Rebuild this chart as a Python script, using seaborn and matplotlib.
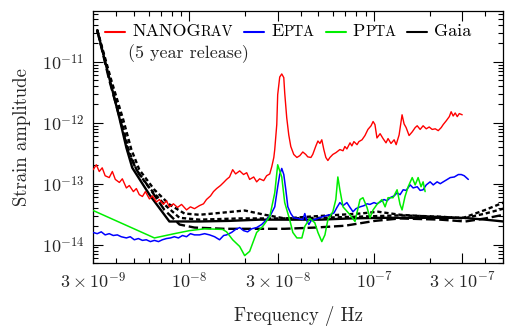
import numpy as np
import matplotlib
matplotlib.use("Agg")
import matplotlib.pyplot as plt
import seaborn as sns
from matplotlib.ticker import FixedLocator, FixedFormatter, NullFormatter
from matplotlib.offsetbox import AnchoredOffsetbox, HPacker, TextArea, DrawingArea
from matplotlib.lines import Line2D

# ---------------- data (log10 of frequency [Hz] and strain amplitude) ----------------
nanograv_log_f = [-8.522, -8.505, -8.489, -8.473, -8.457, -8.435, -8.418, -8.402, -8.380, -8.364,
                  -8.342, -8.326, -8.304, -8.288, -8.272, -8.255, -8.239, -8.217, -8.201, -8.179,
                  -8.163, -8.141, -8.125, -8.109, -8.087, -8.065, -8.043, -8.016, -7.995, -7.973,
                  -7.946, -7.924, -7.908, -7.886, -7.870, -7.853, -7.832, -7.815, -7.799, -7.783,
                  -7.766, -7.750, -7.728, -7.707, -7.690, -7.674, -7.652, -7.636, -7.620, -7.598,
                  -7.582, -7.565, -7.554, -7.543, -7.538, -7.527, -7.522, -7.511, -7.500, -7.489,
                  -7.484, -7.473, -7.462, -7.451, -7.435, -7.418, -7.402, -7.386, -7.370, -7.359,
                  -7.342, -7.332, -7.315, -7.304, -7.293, -7.283, -7.272, -7.261, -7.250, -7.239,
                  -7.223, -7.206, -7.185, -7.168, -7.158, -7.147, -7.130, -7.120, -7.109, -7.092,
                  -7.082, -7.065, -7.049, -7.033, -7.016, -7.005, -6.995, -6.984, -6.967, -6.951,
                  -6.935, -6.924, -6.908, -6.891, -6.880, -6.864, -6.848, -6.837, -6.826, -6.810,
                  -6.793, -6.777, -6.766, -6.750, -6.734, -6.717, -6.701, -6.685, -6.668, -6.652,
                  -6.636, -6.625, -6.609, -6.592, -6.582, -6.571, -6.560, -6.549, -6.538, -6.522]
nanograv_log_h = [-12.77, -12.69, -12.80, -12.74, -12.87, -12.90, -12.80, -12.93, -12.98, -12.92,
                  -13.07, -13.03, -13.13, -13.08, -13.18, -13.21, -13.13, -13.25, -13.20, -13.30,
                  -13.26, -13.34, -13.28, -13.38, -13.33, -13.39, -13.34, -13.43, -13.38, -13.41,
                  -13.36, -13.33, -13.26, -13.20, -13.13, -13.08, -13.03, -12.98, -12.93, -12.89,
                  -12.77, -12.84, -12.79, -12.85, -12.82, -12.93, -12.89, -12.97, -12.92, -12.95,
                  -12.87, -12.84, -12.72, -12.57, -12.44, -12.03, -11.54, -11.25, -11.20, -11.26,
                  -11.51, -11.92, -12.20, -12.39, -12.52, -12.57, -12.54, -12.48, -12.52, -12.56,
                  -12.57, -12.52, -12.38, -12.30, -12.34, -12.28, -12.44, -12.57, -12.62, -12.57,
                  -12.52, -12.49, -12.44, -12.46, -12.39, -12.43, -12.33, -12.38, -12.31, -12.36,
                  -12.31, -12.28, -12.21, -12.11, -12.05, -11.98, -12.03, -12.25, -12.18, -12.26,
                  -12.33, -12.26, -12.34, -12.28, -12.36, -12.20, -11.87, -12.02, -12.08, -12.21,
                  -12.15, -12.08, -12.05, -12.11, -12.05, -12.10, -12.07, -12.11, -12.10, -12.13,
                  -12.08, -12.03, -11.97, -11.90, -11.82, -11.89, -11.84, -11.90, -11.85, -11.87]

epta_log_f = [-8.522, -8.500, -8.478, -8.457, -8.435, -8.413, -8.391, -8.370, -8.342, -8.321,
              -8.299, -8.277, -8.255, -8.234, -8.212, -8.190, -8.168, -8.147, -8.125, -8.103,
              -8.082, -8.060, -8.038, -8.016, -7.995, -7.973, -7.946, -7.918, -7.891, -7.864,
              -7.837, -7.815, -7.799, -7.772, -7.750, -7.728, -7.707, -7.685, -7.663, -7.636,
              -7.609, -7.582, -7.560, -7.538, -7.522, -7.511, -7.500, -7.489, -7.478, -7.467,
              -7.451, -7.435, -7.413, -7.386, -7.375, -7.364, -7.353, -7.342, -7.326, -7.304,
              -7.277, -7.255, -7.239, -7.217, -7.201, -7.185, -7.168, -7.147, -7.130, -7.114,
              -7.098, -7.076, -7.054, -7.038, -7.022, -7.000, -6.984, -6.967, -6.946, -6.929,
              -6.913, -6.891, -6.875, -6.859, -6.842, -6.826, -6.804, -6.788, -6.766, -6.750,
              -6.734, -6.717, -6.696, -6.679, -6.658, -6.641, -6.625, -6.603, -6.587, -6.565,
              -6.543, -6.527, -6.511, -6.489]
epta_log_h = [-13.80, -13.82, -13.79, -13.84, -13.82, -13.85, -13.84, -13.87, -13.89, -13.87,
              -13.92, -13.90, -13.93, -13.92, -13.95, -13.93, -13.95, -13.92, -13.90, -13.89,
              -13.87, -13.89, -13.85, -13.87, -13.82, -13.84, -13.84, -13.82, -13.84, -13.87,
              -13.92, -13.85, -13.84, -13.80, -13.75, -13.72, -13.77, -13.79, -13.74, -13.72,
              -13.67, -13.59, -13.51, -13.38, -13.05, -12.85, -12.75, -12.85, -13.10, -13.38,
              -13.49, -13.56, -13.57, -13.59, -13.49, -13.61, -13.67, -13.61, -13.59, -13.57,
              -13.54, -13.52, -13.51, -13.48, -13.39, -13.31, -13.36, -13.31, -13.39, -13.46,
              -13.41, -13.38, -13.36, -13.33, -13.34, -13.31, -13.33, -13.30, -13.26, -13.28,
              -13.23, -13.20, -13.15, -13.18, -13.10, -13.11, -13.02, -13.07, -13.05, -13.11,
              -13.10, -13.02, -12.97, -13.02, -12.97, -13.00, -12.97, -12.93, -12.90, -12.89,
              -12.85, -12.85, -12.87, -12.93]

ppta_log_f = [-8.522, -8.190, -8.082, -8.000, -7.918, -7.821, -7.799, -7.766, -7.728, -7.701,
              -7.674, -7.636, -7.603, -7.565, -7.538, -7.522, -7.500, -7.484, -7.457, -7.440,
              -7.418, -7.391, -7.375, -7.348, -7.321, -7.304, -7.283, -7.266, -7.250, -7.223,
              -7.207, -7.196, -7.185, -7.168, -7.130, -7.103, -7.076, -7.060, -7.038, -7.022,
              -7.005, -6.984, -6.957, -6.940, -6.924, -6.897, -6.875, -6.859, -6.848, -6.832,
              -6.815, -6.793, -6.777, -6.761, -6.745, -6.734, -6.723]
ppta_log_h = [-13.44, -13.89, -13.82, -13.77, -13.74, -13.75, -13.79, -13.92, -14.03, -14.18,
              -14.11, -13.80, -13.70, -13.54, -13.15, -12.69, -12.89, -13.31, -13.59, -13.80,
              -13.89, -13.89, -13.70, -13.57, -13.64, -13.80, -13.95, -13.84, -13.59, -13.46,
              -13.26, -12.89, -13.10, -13.38, -13.51, -13.62, -13.26, -13.23, -13.39, -13.56,
              -13.43, -13.34, -13.26, -13.38, -13.23, -13.23, -13.10, -13.34, -13.43, -13.21,
              -13.05, -12.90, -13.02, -12.90, -13.05, -12.97, -13.13]

gaia_solid_log_f = [-8.500, -8.435, -8.380, -8.342, -8.310, -8.217, -8.109, -7.946, -7.783, -7.620,
                    -7.457, -7.293, -7.130, -6.967, -6.804, -6.641, -6.516, -6.397, -6.299]
gaia_solid_log_h = [-10.48, -11.26, -11.92, -12.41, -12.74, -13.18, -13.62, -13.62, -13.61, -13.59,
                    -13.59, -13.59, -13.57, -13.56, -13.56, -13.56, -13.56, -13.59, -13.62]
gaia_dotA_log_f = [-8.500, -8.424, -8.359, -8.315, -8.272, -8.190, -8.109, -8.027, -7.946, -7.837,
                   -7.701, -7.592, -7.484, -7.348, -7.185, -7.076, -6.978, -6.859, -6.696, -6.516,
                   -6.397, -6.299]
gaia_dotA_log_h = [-10.48, -11.30, -11.95, -12.44, -12.77, -13.10, -13.34, -13.49, -13.51, -13.48,
                   -13.44, -13.51, -13.57, -13.54, -13.51, -13.49, -13.46, -13.51, -13.54, -13.56,
                   -13.43, -13.31]
gaia_dotB_log_f = [-8.500, -8.429, -8.370, -8.326, -8.283, -8.217, -8.136, -8.054, -7.946, -7.728,
                   -7.511, -7.293, -7.076, -6.859, -6.641, -6.516, -6.397, -6.299]
gaia_dotB_log_h = [-10.48, -11.30, -11.95, -12.48, -12.80, -13.07, -13.34, -13.56, -13.59, -13.57,
                   -13.57, -13.56, -13.54, -13.52, -13.54, -13.57, -13.49, -13.41]
gaia_dash_log_f = [-8.500, -8.435, -8.375, -8.332, -8.288, -8.217, -8.136, -8.054, -7.973, -7.810,
                   -7.647, -7.484, -7.321, -7.158, -6.995, -6.859, -6.641, -6.505, -6.397, -6.299]
gaia_dash_log_h = [-10.48, -11.30, -11.95, -12.48, -12.77, -13.07, -13.43, -13.67, -13.72, -13.74,
                   -13.74, -13.74, -13.72, -13.69, -13.61, -13.57, -13.59, -13.62, -13.57, -13.51]

xtick_values = [3e-9, 1e-8, 3e-8, 1e-7, 3e-7]
xtick_labels = [r'$3\times10^{-9}$', r'$10^{-8}$', r'$3\times10^{-8}$', r'$10^{-7}$', r'$3\times10^{-7}$']
ytick_values = [1e-14, 1e-13, 1e-12, 1e-11]
ytick_labels = [r'$10^{-14}$', r'$10^{-13}$', r'$10^{-12}$', r'$10^{-11}$']

legend_entries = [("red", "NANOG", "RAV"), ("blue", "E", "PTA"), ("#00ee00", "P", "PTA"), ("black", "Gaia", "")]

# ---------------- style ----------------
sns.set_style("ticks")
plt.rcParams['font.family'] = ['cmr10', 'DejaVu Serif']
plt.rcParams['mathtext.fontset'] = 'cm'
plt.rcParams['axes.formatter.use_mathtext'] = True

fig = plt.figure(figsize=(5.16, 3.33), dpi=100)
ax = fig.add_axes([93 / 516, 1 - 263 / 333, 410 / 516, 252 / 333])

def draw(lf, lh, color, lw, dashes=None, z=2):
    sns.lineplot(x=10 ** np.array(lf), y=10 ** np.array(lh), ax=ax, color=color,
                 linewidth=lw, sort=False, estimator=None, zorder=z)
    line = ax.lines[-1]
    if dashes is not None:
        line.set_dashes(dashes)
    return line

draw(gaia_dash_log_f, gaia_dash_log_h, "black", 1.7, dashes=(4.0, 1.6), z=2)
draw(gaia_dotB_log_f, gaia_dotB_log_h, "black", 1.7, dashes=(1.8, 1.2), z=2)
draw(gaia_dotA_log_f, gaia_dotA_log_h, "black", 1.7, dashes=(1.8, 1.2), z=2)
draw(gaia_solid_log_f, gaia_solid_log_h, "black", 1.7, z=2)
draw(nanograv_log_f, nanograv_log_h, "red", 1.0, z=3)
draw(epta_log_f, epta_log_h, "blue", 1.1, z=3)
draw(ppta_log_f, ppta_log_h, "#00ee00", 1.1, z=4)

ax.set_xscale("log")
ax.set_yscale("log")
ax.set_xlim(3e-9, 5e-7)
ax.set_ylim(5e-15, 6.8e-11)

ax.xaxis.set_major_locator(FixedLocator(xtick_values))
ax.xaxis.set_major_formatter(FixedFormatter(xtick_labels))
ax.xaxis.set_minor_formatter(NullFormatter())
ax.yaxis.set_major_locator(FixedLocator(ytick_values))
ax.yaxis.set_major_formatter(FixedFormatter(ytick_labels))
ax.yaxis.set_minor_formatter(NullFormatter())

ax.tick_params(which="both", direction="in", top=True, right=True, color="black", width=0.8)
ax.tick_params(which="major", length=7, labelsize=13, pad=6)
ax.tick_params(which="minor", length=3.5)
for s in ax.spines.values():
    s.set_color("black")
    s.set_linewidth(0.9)

ax.set_xlabel("Frequency / Hz", fontsize=13.5, labelpad=10)
ax.set_ylabel("Strain amplitude", fontsize=13.5, labelpad=8)

# ---------------- legend with small capitals ----------------
size = 13
entries = []
for color, big, small in legend_entries:
    da = DrawingArea(14.5, 8, 0, 0)
    da.add_artist(Line2D([0, 14.5], [4, 4], color=color, lw=1.5))
    kids = [TextArea(big, textprops=dict(fontsize=size, color="black"))]
    if small:
        kids.append(TextArea(small, textprops=dict(fontsize=size * 0.8, color="black")))
    lbl = HPacker(children=kids, align="baseline", pad=0, sep=0)
    entries.append(HPacker(children=[da, lbl], align="center", pad=0, sep=5))
row = HPacker(children=entries, align="center", pad=0, sep=8)
box = AnchoredOffsetbox(loc="upper left", child=row, pad=0, borderpad=0, frameon=False,
                        bbox_to_anchor=(105 / 516, 1 - 24 / 333), bbox_transform=fig.transFigure)
ax.add_artist(box)
fig.text(128 / 516, 1 - 54 / 333, "(5 year release)", fontsize=size, va="center", ha="left")

fig.savefig("out.png", dpi=100)
